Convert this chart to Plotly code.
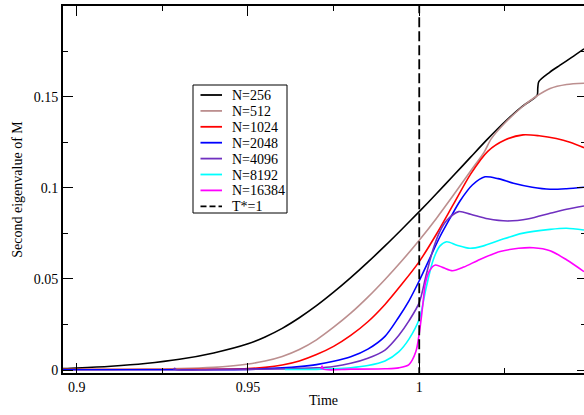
import plotly.graph_objects as go

# ---------------- data ----------------
T_STAR = 1.0

t_256 = [0.896, 0.90, 0.91, 0.92, 0.93, 0.94, 0.95, 0.955, 0.96, 0.965, 0.97, 0.975,
         0.98, 0.985, 0.99, 0.995, 1.0, 1.005, 1.01, 1.015, 1.02, 1.025, 1.03,
         1.0344, 1.0346, 1.0349, 1.038, 1.041, 1.0445, 1.0481]
v_256 = [0.0008, 0.0011, 0.0021, 0.0036, 0.0059, 0.0094, 0.0144, 0.0182, 0.0229, 0.0287,
         0.0353, 0.0427, 0.0507, 0.0592, 0.0681, 0.0774, 0.0869, 0.0967, 0.1067, 0.1168,
         0.1268, 0.1362, 0.1445, 0.1507, 0.1545, 0.1582, 0.1632, 0.1671, 0.1715, 0.1762]

t_512 = [0.896, 0.91, 0.92, 0.93, 0.94, 0.945, 0.95, 0.955, 0.96, 0.965, 0.97, 0.975,
         0.98, 0.985, 0.99, 0.995, 1.0, 1.005, 1.01, 1.015, 1.019, 1.021, 1.025, 1.03,
         1.034, 1.0382, 1.043, 1.0481]
v_512 = [0.0004, 0.0004, 0.0005, 0.0008, 0.0015, 0.0022, 0.0033, 0.0050, 0.0075, 0.0113,
         0.0166, 0.0235, 0.0312, 0.0400, 0.0497, 0.0601, 0.0712, 0.0832, 0.0960, 0.1092,
         0.1197, 0.1268, 0.1355, 0.1443, 0.1499, 0.1544, 0.1566, 0.1573]

t_1024 = [0.896, 0.93, 0.95, 0.955, 0.96, 0.965, 0.97, 0.975, 0.98, 0.985, 0.99, 0.995,
          1.0, 1.005, 1.01, 1.015, 1.02, 1.025, 1.0303, 1.035, 1.04, 1.044, 1.0481]
v_1024 = [0.0003, 0.0003, 0.0008, 0.0015, 0.0028, 0.0050, 0.0085, 0.0130, 0.0190, 0.0265,
          0.0360, 0.0473, 0.0595, 0.0745, 0.0910, 0.1075, 0.1200, 0.1262, 0.1290, 0.1285,
          0.1270, 0.1250, 0.1220]

t_2048 = [0.896, 0.95, 0.96, 0.965, 0.97, 0.975, 0.98, 0.985, 0.99, 0.994, 0.997, 1.0,
          1.003, 1.006, 1.009, 1.012, 1.0155, 1.0192, 1.023, 1.0275, 1.033, 1.0382,
          1.043, 1.0481]
v_2048 = [0.0002, 0.0004, 0.0012, 0.0019, 0.0030, 0.0048, 0.0073, 0.0115, 0.0185, 0.0290,
          0.0380, 0.0490, 0.0610, 0.0730, 0.0833, 0.0930, 0.1015, 0.1060, 0.1050, 0.1025,
          0.1003, 0.0992, 0.0995, 0.1003]

t_4096 = [0.9283, 0.9286, 0.929, 0.94, 0.96, 0.97, 0.975, 0.98, 0.985, 0.99, 0.994, 0.997,
          1.0, 1.002, 1.004, 1.006, 1.008, 1.0115, 1.015, 1.02, 1.0258, 1.032, 1.0382,
          1.043, 1.0481]
v_4096 = [0.0003, 0.0010, 0.0003, 0.0003, 0.0006, 0.0012, 0.0020, 0.0037, 0.0065, 0.0110,
          0.0190, 0.0270, 0.0370, 0.0520, 0.0660, 0.0760, 0.0820, 0.0869, 0.0855, 0.0830,
          0.0818, 0.0830, 0.0860, 0.0882, 0.0900]

t_8192 = [0.9608, 0.97, 0.975, 0.98, 0.985, 0.99, 0.994, 0.997, 1.0, 1.002, 1.004, 1.006,
          1.008, 1.011, 1.0148, 1.0185, 1.0236, 1.03, 1.0382, 1.043, 1.0481]
v_8192 = [0.0003, 0.0004, 0.0007, 0.0013, 0.0025, 0.0050, 0.0100, 0.0170, 0.0280, 0.0450,
          0.0600, 0.0680, 0.0704, 0.0685, 0.0668, 0.0680, 0.0713, 0.0750, 0.0772, 0.0778,
          0.0768]

t_16384 = [0.9713, 0.9716, 0.972, 0.98, 0.99, 0.994, 0.997, 0.999, 1.0, 1.001, 1.0018,
           1.003, 1.0047, 1.007, 1.0097, 1.013, 1.0177, 1.0236, 1.029, 1.0333, 1.0382,
           1.043, 1.0481]
v_16384 = [0.0005, 0.0022, 0.0005, 0.0005, 0.0007, 0.0012, 0.0030, 0.0100, 0.0200, 0.0350,
           0.0477, 0.0545, 0.0576, 0.0562, 0.0545, 0.0565, 0.0607, 0.0650, 0.0668, 0.0671,
           0.0655, 0.0605, 0.0540]

series_names = ["N=256", "N=512", "N=1024", "N=2048", "N=4096", "N=8192", "N=16384"]
series_t = [t_256, t_512, t_1024, t_2048, t_4096, t_8192, t_16384]
series_v = [v_256, v_512, v_1024, v_2048, v_4096, v_8192, v_16384]
series_colors = ["#000000", "#bc8f8f", "#ff0000", "#0000ff", "#7030c0", "#00ffff", "#ff00ff"]
tstar_name = "T*=1"

x_ticks = [0.9, 0.95, 1.0]
x_ticktext = ["0.9", "0.95", "1"]
y_ticks = [0, 0.05, 0.1, 0.15]
y_ticktext = ["0", "0.05", "0.1", "0.15"]

X_RANGE = [0.8960, 1.0481]
Y_RANGE = [-0.0016, 0.1997]

FONT = "Liberation Serif"

# ---------------- layout geometry (pixels) ----------------
W, H = 584, 415
ML, MR, MT, MB = 63, 0, 6, 42
PW, PH = W - ML - MR, H - MT - MB


def px_x(p):
    return (p - ML) / PW


def px_y(p):
    return (H - MB - p) / PH


fig = go.Figure()
for name, t, v, c in zip(series_names, series_t, series_v, series_colors):
    fig.add_trace(go.Scatter(
        x=t, y=v, mode="lines", name=name, showlegend=False,
        line=dict(color=c, width=1.6, shape="spline", smoothing=0.8),
        hoverinfo="skip",
    ))

fig.add_trace(go.Scatter(
    x=[T_STAR, T_STAR], y=[Y_RANGE[0] - 0.01, Y_RANGE[1] + 0.01], mode="lines",
    name=tstar_name, showlegend=False,
    line=dict(color="black", width=1.8, dash="10px,4px"),
    hoverinfo="skip",
))

# dummy trace for a right-hand tick axis (ticks only, no line)
fig.add_trace(go.Scatter(x=[None], y=[None], yaxis="y2", showlegend=False,
                         hoverinfo="skip"))

# ---------------- hand-placed legend box ----------------
shapes = []
annotations = []
LEG_X0, LEG_X1, LEG_Y0, LEG_Y1 = 193, 287, 85, 213
shapes.append(dict(type="rect", xref="paper", yref="paper",
                   x0=px_x(LEG_X0), x1=px_x(LEG_X1), y0=px_y(LEG_Y1), y1=px_y(LEG_Y0),
                   line=dict(color="black", width=1), fillcolor="white", layer="above"))
leg_names = series_names + [tstar_name]
leg_colors = series_colors + ["black"]
for i, (nm, col) in enumerate(zip(leg_names, leg_colors)):
    yy = 95 + 15.9 * i
    shapes.append(dict(type="line", xref="paper", yref="paper",
                       x0=px_x(200.5), x1=px_x(222), y0=px_y(yy), y1=px_y(yy),
                       line=dict(color=col, width=1.8,
                                 dash="6px,3px" if nm == tstar_name else "solid"),
                       layer="above"))
    annotations.append(dict(xref="paper", yref="paper", x=px_x(230), y=px_y(yy + 0.5),
                            xanchor="left", yanchor="middle", showarrow=False,
                            text=nm, font=dict(family=FONT, size=14, color="black")))

axis_common = dict(
    showgrid=False, zeroline=False, showline=True, linecolor="black", linewidth=2,
    ticks="inside", tickcolor="black", tickwidth=1, ticklen=10, automargin=False,
    tickfont=dict(family=FONT, size=14, color="black"),
)

fig.update_layout(
    width=W, height=H, autosize=False,
    margin=dict(l=ML, r=MR, t=MT, b=MB),
    paper_bgcolor="white", plot_bgcolor="white",
    font=dict(family=FONT, size=14, color="black"),
    showlegend=False,
    shapes=shapes, annotations=annotations,
    xaxis=dict(
        **axis_common, range=X_RANGE, mirror="ticks",
        tickmode="array", tickvals=x_ticks, ticktext=x_ticktext,
        minor=dict(ticks="inside", ticklen=5, tickcolor="black", dtick=0.025, tick0=0.9),
        title=dict(text="Time", font=dict(family=FONT, size=14), standoff=1),
    ),
    yaxis=dict(
        **axis_common, range=Y_RANGE, mirror=False,
        tickmode="array", tickvals=y_ticks, ticktext=y_ticktext,
        minor=dict(ticks="inside", ticklen=5, tickcolor="black", dtick=0.025, tick0=0),
        title=dict(text="Second eigenvalue of M", font=dict(family=FONT, size=14), standoff=8),
    ),
    yaxis2=dict(
        overlaying="y", side="right", anchor="x", range=Y_RANGE, automargin=False,
        showgrid=False, zeroline=False, showline=False,
        ticks="inside", tickcolor="black", ticklen=7, tickwidth=1,
        tickmode="array", tickvals=y_ticks, showticklabels=False,
        minor=dict(ticks="inside", ticklen=3, tickcolor="black", dtick=0.025, tick0=0),
    ),
)

fig.write_html("out.html",
               config={"displayModeBar": False, "staticPlot": True},
               post_script="document.body.style.margin='0';document.body.style.overflow='hidden';")
